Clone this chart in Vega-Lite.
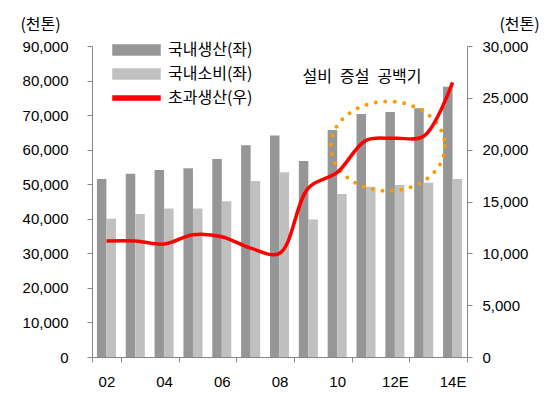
{
  "$schema": "https://vega.github.io/schema/vega-lite/v6.json",
  "width": 375,
  "height": 311,
  "autosize": {"type": "none"},
  "padding": {"left": 92, "top": 46, "right": 83, "bottom": 41},
  "background": "white",
  "config": {
    "view": {"stroke": null},
    "font": "Liberation Sans",
    "axis": {
      "domainColor": "#868686",
      "tickColor": "#868686",
      "tickSize": 5,
      "labelColor": "#000000",
      "labelFont": "Liberation Sans",
      "labelFontSize": 15,
      "grid": false,
      "titleFont": "Noto Sans CJK KR",
      "titleFontSize": 16,
      "titleFontWeight": "normal",
      "titleColor": "#000000"
    }
  },
  "datasets": {
    "bars": [
      {"year": "02", "series": "국내생산(좌)", "value": 51500},
      {"year": "02", "series": "국내소비(좌)", "value": 40000},
      {"year": "03", "series": "국내생산(좌)", "value": 53000},
      {"year": "03", "series": "국내소비(좌)", "value": 41400},
      {"year": "04", "series": "국내생산(좌)", "value": 54100},
      {"year": "04", "series": "국내소비(좌)", "value": 43000},
      {"year": "05", "series": "국내생산(좌)", "value": 54600},
      {"year": "05", "series": "국내소비(좌)", "value": 43000},
      {"year": "06", "series": "국내생산(좌)", "value": 57300},
      {"year": "06", "series": "국내소비(좌)", "value": 45100},
      {"year": "07", "series": "국내생산(좌)", "value": 61300},
      {"year": "07", "series": "국내소비(좌)", "value": 50900},
      {"year": "08", "series": "국내생산(좌)", "value": 64100},
      {"year": "08", "series": "국내소비(좌)", "value": 53500},
      {"year": "09", "series": "국내생산(좌)", "value": 56700},
      {"year": "09", "series": "국내소비(좌)", "value": 39800},
      {"year": "10", "series": "국내생산(좌)", "value": 65700},
      {"year": "10", "series": "국내소비(좌)", "value": 47200},
      {"year": "11", "series": "국내생산(좌)", "value": 70300},
      {"year": "11", "series": "국내소비(좌)", "value": 49300},
      {"year": "12E", "series": "국내생산(좌)", "value": 70900},
      {"year": "12E", "series": "국내소비(좌)", "value": 49800},
      {"year": "13E", "series": "국내생산(좌)", "value": 72000},
      {"year": "13E", "series": "국내소비(좌)", "value": 50400},
      {"year": "14E", "series": "국내생산(좌)", "value": 78200},
      {"year": "14E", "series": "국내소비(좌)", "value": 51500}
    ],
    "excess": [
      {"year": "02", "value": 11200},
      {"year": "03", "value": 11200},
      {"year": "04", "value": 10900},
      {"year": "05", "value": 11800},
      {"year": "06", "value": 11600},
      {"year": "07", "value": 10500},
      {"year": "08", "value": 10000},
      {"year": "09", "value": 16300},
      {"year": "10", "value": 17800},
      {"year": "11", "value": 20900},
      {"year": "12E", "value": 21100},
      {"year": "13E", "value": 21300},
      {"year": "14E", "value": 26500}
    ],
    "notes": [
      {"year": "11", "value": 81000, "label": "설비\u2002증설\u2002공백기"}
    ],
    "circle": [
      {"year": "12E", "value": 61000}
    ]
  },
  "encoding": {
    "x": {
      "field": "year",
      "type": "nominal",
      "sort": null,
      "scale": {
        "domain": ["02", "03", "04", "05", "06", "07", "08", "09", "10", "11", "12E", "13E", "14E"],
        "paddingInner": 0,
        "paddingOuter": 0
      },
      "axis": {
        "title": null,
        "labelAngle": 0,
        "values": ["02", "04", "06", "08", "10", "12E", "14E"],
        "tickBand": "extent",
        "labelPadding": 12,
        "labelFontSize": 15
      }
    }
  },
  "layer": [
    {
      "encoding": {
        "y": {
          "field": "value",
          "type": "quantitative",
          "scale": {"domain": [0, 90000], "nice": false},
          "axis": {
            "values": [0, 10000, 20000, 30000, 40000, 50000, 60000, 70000, 80000, 90000],
            "format": ",.0f",
            "labelPadding": 19,
            "labelOverlap": false,
            "title": "(천톤)",
            "titleAngle": 0,
            "titleX": -52,
            "titleY": -22,
            "titleAlign": "center",
            "titleBaseline": "middle"
          }
        }
      },
      "layer": [
        {
          "data": {"name": "bars"},
          "mark": {"type": "bar"},
          "encoding": {
            "xOffset": {
              "field": "series",
              "type": "nominal",
              "sort": ["국내생산(좌)", "국내소비(좌)"],
              "scale": {"paddingInner": 0, "paddingOuter": 0.515}
            },
            "color": {
              "field": "series",
              "type": "nominal",
              "scale": {
                "domain": ["국내생산(좌)", "국내소비(좌)", "초과생산(우)"],
                "range": ["#969696", "#c0c0c0", "#ff0000"]
              },
              "legend": {
                "title": null,
                "orient": "none",
                "legendX": 18,
                "legendY": -4,
                "direction": "vertical",
                "symbolSize": 100,
                "labelFont": "Noto Sans CJK KR",
                "labelFontSize": 16,
                "labelColor": "#000000",
                "labelOffset": 42,
                "rowPadding": 8,
                "padding": 0,
                "labelLimit": 200,
                "encode": {
                  "symbols": {
                    "update": {
                      "shape": {"signal": "datum.value === '초과생산(우)' ? 'M-1,-0.4H8.4V0.4H-1Z' : 'M-1,-1H8.4V1H-1Z'"},
                      "fill": {"scale": "color", "field": "value"},
                      "stroke": {"value": "transparent"},
                      "opacity": {"value": 1}
                    }
                  }
                }
              }
            }
          }
        },
        {
          "data": {"name": "circle"},
          "mark": {
            "type": "point",
            "shape": "M10,0C10,4.938,4.896,8.94,-1.4,8.94C-7.696,8.94,-12.8,4.938,-12.8,0C-12.8,-4.938,-7.696,-8.94,-1.4,-8.94C4.896,-8.94,10,-4.938,10,0Z",
            "size": 100,
            "filled": false,
            "color": "#ff9900",
            "stroke": "#ff9900",
            "strokeWidth": 4,
            "strokeDash": [0, 9.5],
            "strokeCap": "round",
            "opacity": 1
          },
          "encoding": {}
        },
        {
          "data": {"name": "notes"},
          "mark": {
            "type": "text",
            "font": "Noto Sans CJK KR",
            "fontSize": 16,
            "dx": -4,
            "color": "#000000",
            "align": "center",
            "baseline": "middle"
          },
          "encoding": {
            "text": {"field": "label"}
          }
        }
      ]
    },
    {
      "data": {"name": "excess"},
      "mark": {"type": "line", "interpolate": "catmull-rom", "strokeWidth": 3.5},
      "encoding": {
        "y": {
          "field": "value",
          "type": "quantitative",
          "scale": {"domain": [0, 30000], "nice": false},
          "axis": {
            "orient": "right",
            "values": [0, 5000, 10000, 15000, 20000, 25000, 30000],
            "format": ",.0f",
            "labelPadding": 10,
            "labelOverlap": false,
            "title": "(천톤)",
            "titleAngle": 0,
            "titleX": 52,
            "titleY": -22,
            "titleAlign": "center",
            "titleBaseline": "middle"
          }
        },
        "color": {"datum": "초과생산(우)"}
      }
    }
  ],
  "resolve": {"scale": {"y": "independent"}}
}
